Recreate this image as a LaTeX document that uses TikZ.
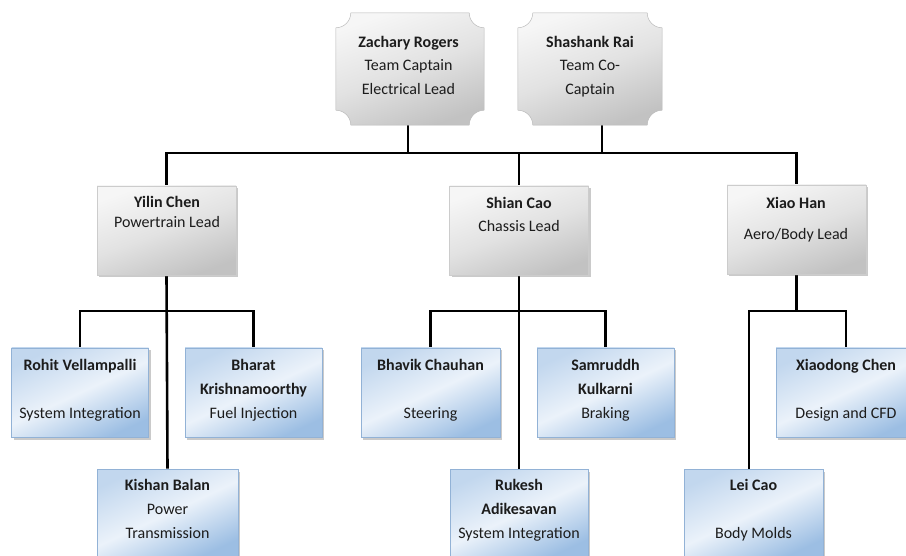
\documentclass[tikz,border=0pt]{standalone}
\usepackage{fontspec}
\setmainfont{Carlito}
\usetikzlibrary{calc,shadows,backgrounds}
\definecolor{gtop}{HTML}{F6F6F6}
\definecolor{gmid}{HTML}{E2E2E2}
\definecolor{gbot}{HTML}{C2C2C2}
\definecolor{btop}{HTML}{C2D7EE}
\definecolor{bmid}{HTML}{EBF2FA}
\definecolor{bbot}{HTML}{9CBEE3}
\definecolor{bedge}{HTML}{92B2D6}
\definecolor{txt}{HTML}{1C1C1C}
\newcommand\myplaque[2]{\path[#2] let \p1=(#1.north west), \p2=(#1.south east) in
  ({\x1+15pt},\y1) -- ({\x2-15pt},\y1)
  .. controls ({\x2-15pt},{\y1-8.3pt}) and ({\x2-8.3pt},{\y1-15pt}) .. (\x2,{\y1-15pt})
  -- (\x2,{\y2+15pt})
  .. controls ({\x2-8.3pt},{\y2+15pt}) and ({\x2-15pt},{\y2+8.3pt}) .. ({\x2-15pt},\y2)
  -- ({\x1+15pt},\y2)
  .. controls ({\x1+15pt},{\y2+8.3pt}) and ({\x1+8.3pt},{\y2+15pt}) .. (\x1,{\y2+15pt})
  -- (\x1,{\y1-15pt})
  .. controls ({\x1+8.3pt},{\y1-15pt}) and ({\x1+15pt},{\y1-8.3pt}) .. ({\x1+15pt},\y1)
  -- cycle;}
\begin{document}
\begin{tikzpicture}[x=1pt,y=-1pt,
  anchorbox/.style={minimum width=#1, minimum height=112pt, inner sep=0pt},
  graybox/.style={minimum width=139pt, minimum height=89pt, inner sep=0pt,
    top color=gtop, bottom color=gbot, middle color=gmid, shading angle=20,
    draw=gray!40, line width=0.5pt,
    drop shadow={shadow xshift=2pt, shadow yshift=-2.5pt, opacity=0.35, fill=black!60}},
  bluebox/.style={minimum width=#1, minimum height=89pt, inner sep=0pt,
    top color=btop, bottom color=bbot, middle color=bmid, shading angle=25,
    draw=bedge, line width=0.6pt,
    drop shadow={shadow xshift=2pt, shadow yshift=-2.5pt, opacity=0.35, fill=black!60}},
  tx/.style={anchor=north, align=center, inner sep=0pt, text=txt,
    font=\fontsize{16}{24}\selectfont},
  conn/.style={draw=black, line width=2.6pt}]
\useasboundingbox (0,0) rectangle (906,556);

% ---- top plaques ----
\node[anchorbox=148pt] (zr) at (410,69) {};
\node[anchorbox=144pt] (sr) at (590,69) {};
\begin{scope}[shift={(2pt,-3pt)}]
  \myplaque{zr}{fill=black!30, opacity=0.6}
  \myplaque{sr}{fill=black!30, opacity=0.6}
\end{scope}
\myplaque{zr}{top color=gtop, bottom color=gbot, middle color=gmid, shading angle=20, draw=gray!50, line width=0.5pt}
\myplaque{sr}{top color=gtop, bottom color=gbot, middle color=gmid, shading angle=20, draw=gray!50, line width=0.5pt}
\node[tx, font=\fontsize{16}{23.5}\selectfont] (zr-t) at (408.5,36) {\textbf{Zachary Rogers}\\Team Captain\\Electrical Lead};
\node[tx, font=\fontsize{16}{23.5}\selectfont] (sr-t) at (590,36) {\textbf{Shashank Rai}\\Team Co-\\Captain};

% ---- leads ----
\node[graybox] (yc) at (166.5,230.5) {};
\node[graybox] (sc) at (519,230.5) {};
\node[graybox] (xh) at (796.5,229.5) {};
\node[tx, font=\fontsize{16}{20}\selectfont] (yc-t) at (167,196) {\textbf{Yilin Chen}\\Powertrain Lead};
\node[tx, font=\fontsize{16}{23}\selectfont] (sc-t) at (519,197) {\textbf{Shian Cao}\\Chassis Lead};
\node[tx, font=\fontsize{16}{31}\selectfont] (xh-t) at (796,197) {\textbf{Xiao Han}\\Aero/Body Lead};

% ---- members level 3 ----
\node[bluebox=137pt] (rv) at (80,392.5) {};
\node[bluebox=137pt] (bk) at (253.5,392.5) {};
\node[bluebox=139pt] (bc) at (430.5,392.5) {};
\node[bluebox=137pt] (sk) at (605.5,392.5) {};
\node[bluebox=140pt] (xc) at (846,392.5) {};
\node[tx] (rv-t) at (80,359) {\textbf{Rohit Vellampalli}\\[24pt]System Integration};
\node[tx] (bk-t) at (253.5,359) {\textbf{Bharat}\\\textbf{Krishnamoorthy}\\Fuel Injection};
\node[tx] (bc-t) at (430.5,359) {\textbf{Bhavik Chauhan}\\[24pt]Steering};
\node[tx] (sk-t) at (605.5,359) {\textbf{Samruddh}\\\textbf{Kulkarni}\\Braking};
\node[tx] (xc-t) at (846,359) {\textbf{Xiaodong Chen}\\[24pt]Design and CFD};

% ---- members level 4 ----
\node[bluebox=141pt] (kb) at (167.5,513.5) {};
\node[bluebox=138pt] (ra) at (519,513.5) {};
\node[bluebox=139pt] (lc) at (753.5,513.5) {};
\node[tx] (kb-t) at (167.5,479) {\textbf{Kishan Balan}\\Power\\Transmission};
\node[tx] (ra-t) at (519,479) {\textbf{Rukesh}\\\textbf{Adikesavan}\\System Integration};
\node[tx] (lc-t) at (753.5,479) {\textbf{Lei Cao}\\[24pt]Body Molds};

% ---- connectors ----
\coordinate (bus) at (518,153);
\coordinate (br) at (0,311);
\begin{scope}[on background layer]
  \draw[conn] ([xshift=-2pt]zr.south) -- ([xshift=-2pt]zr.south |- bus);
  \draw[conn] ([xshift=12pt]sr.south) -- ([xshift=12pt]sr.south |- bus);
  \draw[conn] (yc.north) -- (yc.north |- bus) -- (xh.north |- bus) -- (xh.north);
  \draw[conn] (sc.north) -- (sc.north |- bus);
  % Yilin
  \draw[conn] (yc.south) -- (kb.north);
  \draw[conn] (rv.north) -- (rv.north |- br) -- (bk.north |- br) -- (bk.north);
  % Shian
  \draw[conn] (sc.south) -- (ra.north);
  \draw[conn] (bc.north) -- (bc.north |- br) -- (sk.north |- br) -- (sk.north);
  % Xiao
  \draw[conn] (xh.south) -- (xh.south |- br);
  \draw[conn] ([xshift=-4.5pt]lc.north) -- ([xshift=-4.5pt]lc.north |- br) -- (xc.north |- br) -- (xc.north);
\end{scope}
\end{tikzpicture}
\end{document}
